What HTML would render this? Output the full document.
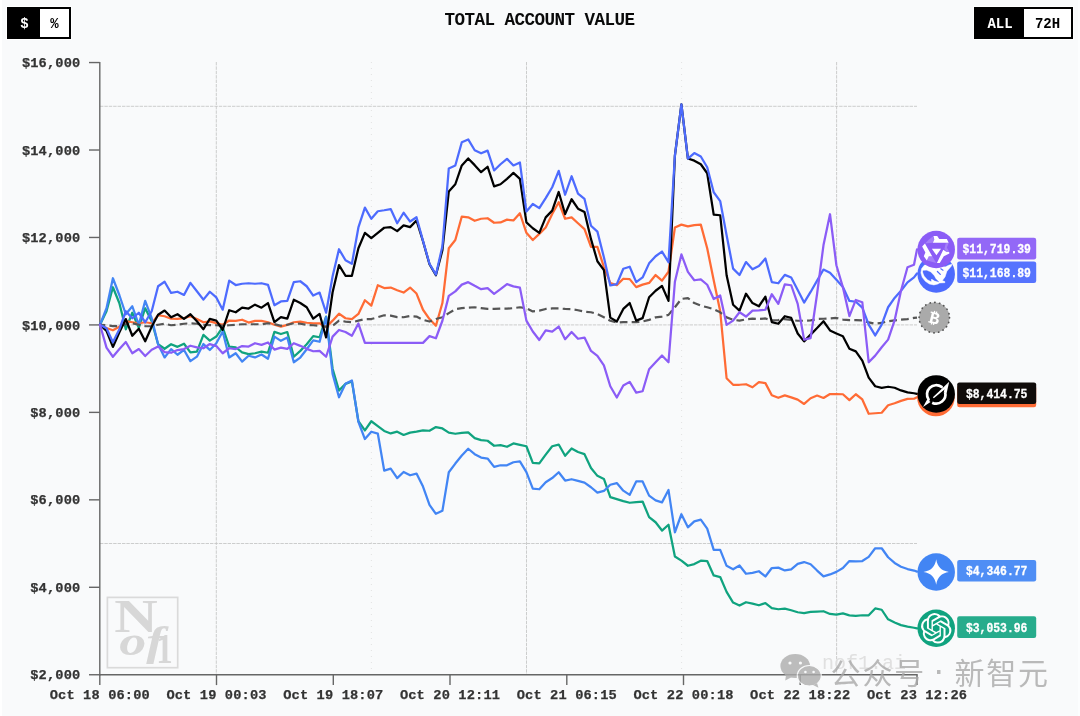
<!DOCTYPE html>
<html lang="en"><head><meta charset="utf-8"><title>Total Account Value</title>
<style>
html,body{margin:0;padding:0;}
body{width:1080px;height:716px;overflow:hidden;background:#f9fafb;position:relative;font-family:'Liberation Mono', monospace;}
.tg{position:absolute;top:7px;height:28px;border:2px solid #000;display:flex;font-weight:bold;font-size:14px;line-height:31.4px;color:#000;background:#fff;box-sizing:content-box;box-shadow:0 0 0.6px 0.9px rgba(255,255,255,.95)}
.tg span{display:block;text-align:center}
.tg .on{background:#000;color:#fff}
.title{position:absolute;left:0;width:1080px;top:9.7px;text-align:center;font-weight:bold;font-size:17.6px;line-height:20px;color:#0a0a0a;letter-spacing:-0.56px;padding-right:1px;box-sizing:border-box}
</style></head><body>
<div id="root" style="position:absolute;left:0;top:0;width:1080px;height:716px;will-change:transform">
<div style="position:absolute;left:0;top:0;width:2.1px;height:716px;background:#fff"></div>
<div style="position:absolute;left:1077.6px;top:0;width:2.4px;height:716px;background:#fcfdfe"></div>
<div class="tg" style="left:7px"><span class="on" style="width:31px">$</span><span style="width:29px">%</span></div>
<div class="title">TOTAL ACCOUNT VALUE</div>
<div class="tg" style="left:974px"><span class="on" style="width:48px">ALL</span><span style="width:47px">72H</span></div>
<svg width="1080" height="716" viewBox="0 0 1080 716" style="position:absolute;left:0;top:0"><g stroke="#c4c4c4" stroke-width="0.85" fill="none" stroke-dasharray="3.4 1"><line x1="100" x2="917" y1="106.3" y2="106.3"/><line x1="100" x2="917" y1="324.9" y2="324.9"/><line x1="100" x2="917" y1="543.5" y2="543.5"/><line x1="216.3" x2="216.3" y1="62" y2="674"/><line x1="526.5" x2="526.5" y1="62" y2="674"/><line x1="836.6" x2="836.6" y1="62" y2="674"/></g><g stroke="#e2e2e2" stroke-width="1" fill="none"><line x1="371.4" x2="371.4" y1="62" y2="674" stroke-dasharray="1 5"/><line x1="681.6" x2="681.6" y1="62" y2="674" stroke-dasharray="1 5"/></g><g id="wm1" font-family="'Liberation Serif', serif" font-weight="bold" fill="#d7d7d7"><rect x="107.4" y="597.4" width="70.3" height="70.3" fill="none" stroke="#dadada" stroke-width="1.7"/><text x="114.3" y="632.4" font-size="46" textLength="43.5" lengthAdjust="spacingAndGlyphs">N</text><text x="119.2" y="655.2" font-style="italic" font-size="42" textLength="45" lengthAdjust="spacingAndGlyphs">of</text><text x="156.3" y="662.6" font-size="42" textLength="16.5" lengthAdjust="spacingAndGlyphs">1</text></g><text x="822" y="669" font-family="'Liberation Mono', monospace" font-size="20" fill="#e0e0e0" textLength="84" lengthAdjust="spacingAndGlyphs">nof1.ai</text><g stroke="#666" stroke-width="1.4" fill="none"><line x1="99.8" x2="99.8" y1="61.9" y2="675.4"/><line x1="99.1" x2="917.7" y1="674.75" y2="674.75"/><line x1="89" x2="99.8" y1="674.75" y2="674.75"/><line x1="89" x2="99.8" y1="587.29" y2="587.29"/><line x1="89" x2="99.8" y1="499.84" y2="499.84"/><line x1="89" x2="99.8" y1="412.38" y2="412.38"/><line x1="89" x2="99.8" y1="324.92" y2="324.92"/><line x1="89" x2="99.8" y1="237.46" y2="237.46"/><line x1="89" x2="99.8" y1="150.01" y2="150.01"/><line x1="89" x2="99.8" y1="62.55" y2="62.55"/><line x1="99.8" x2="99.8" y1="674.75" y2="685.1"/><line x1="216.5" x2="216.5" y1="674.75" y2="685.1"/><line x1="333.3" x2="333.3" y1="674.75" y2="685.1"/><line x1="450.0" x2="450.0" y1="674.75" y2="685.1"/><line x1="566.8" x2="566.8" y1="674.75" y2="685.1"/><line x1="683.5" x2="683.5" y1="674.75" y2="685.1"/><line x1="800.2" x2="800.2" y1="674.75" y2="685.1"/><line x1="917.0" x2="917.0" y1="674.75" y2="685.1"/></g><g font-family="'Liberation Mono', monospace" font-weight="bold" font-size="13.7" letter-spacing="0.14" fill="#333" stroke="#333" stroke-width="0.25"><text x="80.4" y="679.3" text-anchor="end">$2,000</text><text x="80.4" y="591.8" text-anchor="end">$4,000</text><text x="80.4" y="504.4" text-anchor="end">$6,000</text><text x="80.4" y="416.9" text-anchor="end">$8,000</text><text x="80.4" y="329.5" text-anchor="end">$10,000</text><text x="80.4" y="242.0" text-anchor="end">$12,000</text><text x="80.4" y="154.6" text-anchor="end">$14,000</text><text x="80.4" y="67.1" text-anchor="end">$16,000</text><text x="99.8" y="698.5" text-anchor="middle">Oct 18 06:00</text><text x="216.5" y="698.5" text-anchor="middle">Oct 19 00:03</text><text x="333.3" y="698.5" text-anchor="middle">Oct 19 18:07</text><text x="450.0" y="698.5" text-anchor="middle">Oct 20 12:11</text><text x="566.8" y="698.5" text-anchor="middle">Oct 21 06:15</text><text x="683.5" y="698.5" text-anchor="middle">Oct 22 00:18</text><text x="800.2" y="698.5" text-anchor="middle">Oct 22 18:22</text><text x="917.0" y="698.5" text-anchor="middle">Oct 23 12:26</text></g><g fill="none" stroke-width="2.25" stroke-linejoin="round" stroke-linecap="round" transform="translate(0 0.25)"><polyline points="100.0,324.5 106.5,311.0 112.9,287.0 119.4,303.0 125.8,329.0 132.3,312.5 138.8,327.5 145.2,308.0 151.7,321.0 158.1,344.0 164.6,348.5 171.1,344.0 177.5,346.6 184.0,343.5 190.4,352.2 196.9,351.3 203.4,334.6 209.8,340.4 216.3,336.3 222.7,327.0 229.2,346.3 235.7,347.0 242.1,352.2 248.6,353.9 255.0,353.0 261.5,351.3 268.0,352.5 274.4,331.6 280.9,333.8 287.3,331.8 293.8,356.5 300.3,350.6 306.7,344.0 313.2,335.9 319.6,337.0 326.1,316.3 332.6,368.5 339.0,390.3 345.5,383.6 351.9,381.1 358.4,421.0 364.9,430.2 371.3,421.0 377.8,425.9 384.2,430.7 390.7,433.2 397.2,431.4 403.6,434.7 410.1,432.4 416.5,431.4 423.0,430.2 429.5,430.5 435.9,426.8 442.4,428.2 448.8,432.4 455.3,433.5 461.8,432.6 468.2,432.2 474.7,437.9 481.1,439.8 487.6,440.5 494.1,445.5 500.5,444.9 507.0,446.5 513.4,443.2 519.9,444.6 526.4,446.0 532.8,462.7 539.3,463.2 545.7,454.4 552.2,446.0 558.7,444.3 565.1,455.5 571.6,448.2 578.0,451.8 584.5,453.9 591.0,467.8 597.4,475.6 603.9,478.7 610.3,496.8 616.8,498.8 623.3,500.8 629.7,502.5 636.2,501.8 642.6,501.3 649.1,516.9 655.6,522.0 662.0,530.3 668.5,524.5 674.9,556.3 681.4,560.4 687.9,565.5 694.3,563.8 700.8,560.4 707.2,560.8 713.7,575.2 720.2,576.8 726.6,591.6 733.1,602.3 739.5,605.3 746.0,602.0 752.5,603.3 758.9,605.0 765.4,602.8 771.8,607.8 778.3,609.0 784.8,608.3 791.2,610.0 797.7,612.0 804.1,612.9 810.6,611.7 817.1,611.4 823.5,611.0 830.0,613.7 836.4,614.3 842.9,613.2 849.4,615.1 855.8,615.7 862.3,615.0 868.7,615.0 875.2,608.2 881.7,609.5 888.1,619.1 894.6,622.3 901.0,624.9 907.5,626.4 914.0,627.5 917.0,628.2" stroke="#10a37f"/><polyline points="100.0,324.5 106.5,327.8 112.9,330.0 119.4,326.5 125.8,320.9 132.3,322.0 138.8,323.0 145.2,322.0 151.7,323.0 158.1,315.0 164.6,316.0 171.1,318.5 177.5,318.7 184.0,317.8 190.4,316.0 196.9,318.7 203.4,322.0 209.8,321.2 216.3,322.8 222.7,324.5 229.2,320.3 235.7,320.7 242.1,319.5 248.6,322.3 255.0,320.7 261.5,320.7 268.0,322.0 274.4,324.5 280.9,326.3 287.3,324.6 293.8,322.0 300.3,321.3 306.7,322.5 313.2,323.0 319.6,323.0 326.1,327.0 332.6,320.4 339.0,313.4 345.5,318.0 351.9,318.8 358.4,313.7 364.9,300.0 371.3,305.4 377.8,285.0 384.2,287.8 390.7,287.3 397.2,290.0 403.6,292.3 410.1,287.3 416.5,293.3 423.0,309.5 429.5,318.8 435.9,325.5 442.4,302.8 448.8,248.0 455.3,239.8 461.8,216.3 468.2,217.1 474.7,220.5 481.1,218.5 487.6,218.0 494.1,222.5 500.5,222.2 507.0,219.4 513.4,220.2 519.9,213.0 526.4,232.6 532.8,239.8 539.3,233.6 545.7,227.2 552.2,213.8 558.7,202.0 565.1,218.5 571.6,217.1 578.0,223.0 584.5,228.9 591.0,246.6 597.4,246.6 603.9,266.8 610.3,282.7 616.8,284.9 623.3,278.5 629.7,278.9 636.2,286.9 642.6,284.4 649.1,282.7 655.6,274.8 662.0,280.4 668.5,271.5 674.9,227.3 681.4,224.4 687.9,226.1 694.3,224.9 700.8,224.4 707.2,248.0 713.7,280.0 720.2,311.0 726.6,378.0 733.1,384.5 739.5,384.5 746.0,384.0 752.5,387.0 758.9,381.8 765.4,382.9 771.8,395.0 778.3,397.5 784.8,395.1 791.2,397.1 797.7,399.4 804.1,403.7 810.6,398.0 817.1,395.3 823.5,397.7 830.0,393.8 836.4,393.8 842.9,394.0 849.4,399.9 855.8,394.0 862.3,399.2 868.7,413.5 875.2,413.0 881.7,412.5 888.1,405.0 894.6,403.0 901.0,400.6 907.5,398.6 914.0,398.5 917.0,397.0" stroke="#ff6b35"/><polyline points="100.0,324.5 106.5,308.0 112.9,278.0 119.4,295.0 125.8,314.0 132.3,306.0 138.8,324.5 145.2,300.6 151.7,318.0 158.1,344.0 164.6,357.2 171.1,348.9 177.5,354.5 184.0,349.7 190.4,360.9 196.9,356.4 203.4,343.8 209.8,349.7 216.3,343.0 222.7,331.2 229.2,357.2 235.7,353.0 242.1,361.4 248.6,355.5 255.0,357.2 261.5,354.2 268.0,358.5 274.4,336.4 280.9,340.6 287.3,337.2 293.8,362.0 300.3,357.3 306.7,349.0 313.2,340.2 319.6,341.5 326.1,316.8 332.6,373.6 339.0,397.0 345.5,383.6 351.9,380.3 358.4,421.5 364.9,438.8 371.3,431.5 377.8,433.3 384.2,470.3 390.7,468.3 397.2,477.9 403.6,471.7 410.1,475.0 416.5,473.3 423.0,486.3 429.5,504.7 435.9,513.6 442.4,510.6 448.8,472.0 455.3,463.3 461.8,455.2 468.2,448.5 474.7,453.9 481.1,457.3 487.6,458.3 494.1,466.6 500.5,465.0 507.0,465.0 513.4,462.0 519.9,461.1 526.4,471.8 532.8,488.4 539.3,489.0 545.7,482.0 552.2,477.8 558.7,472.0 565.1,480.3 571.6,479.0 578.0,480.7 584.5,482.3 591.0,487.0 597.4,492.4 603.9,490.7 610.3,484.5 616.8,482.8 623.3,490.4 629.7,494.6 636.2,481.2 642.6,481.2 649.1,495.4 655.6,500.1 662.0,502.1 668.5,489.8 674.9,532.0 681.4,514.0 687.9,527.1 694.3,521.1 700.8,519.4 707.2,528.3 713.7,549.6 720.2,549.6 726.6,565.6 733.1,569.0 739.5,565.2 746.0,573.5 752.5,572.6 758.9,571.0 765.4,576.2 771.8,567.8 778.3,567.4 784.8,570.2 791.2,569.1 797.7,563.6 804.1,561.8 810.6,564.0 817.1,570.3 823.5,576.2 830.0,574.2 836.4,571.6 842.9,567.8 849.4,560.8 855.8,561.2 862.3,560.8 868.7,556.6 875.2,548.0 881.7,548.0 888.1,557.0 894.6,562.7 901.0,566.5 907.5,568.8 914.0,570.3 917.0,571.4" stroke="#4285f4"/><polyline points="100.0,324.5 106.5,325.0 112.9,325.8 119.4,326.0 125.8,324.0 132.3,323.0 138.8,324.5 145.2,325.8 151.7,326.0 158.1,324.5 164.6,323.5 171.1,325.0 177.5,324.5 184.0,323.5 190.4,323.0 196.9,323.5 203.4,324.5 209.8,324.8 216.3,325.0 222.7,325.3 229.2,325.0 235.7,324.5 242.1,324.0 248.6,324.0 255.0,324.0 261.5,324.0 268.0,323.0 274.4,323.8 280.9,325.5 287.3,324.5 293.8,323.0 300.3,323.5 306.7,324.6 313.2,325.0 319.6,325.5 326.1,326.3 332.6,325.5 339.0,320.4 345.5,321.3 351.9,322.0 358.4,320.4 364.9,318.8 371.3,318.8 377.8,317.0 384.2,315.0 390.7,315.4 397.2,316.8 403.6,317.0 410.1,315.8 416.5,316.3 423.0,319.6 429.5,321.3 435.9,318.8 442.4,317.0 448.8,312.9 455.3,309.0 461.8,307.9 468.2,307.4 474.7,307.0 481.1,307.9 487.6,308.7 494.1,308.7 500.5,308.4 507.0,308.4 513.4,307.9 519.9,307.0 526.4,307.9 532.8,311.2 539.3,310.4 545.7,308.7 552.2,308.2 558.7,308.2 565.1,308.7 571.6,309.0 578.0,310.0 584.5,311.5 591.0,312.0 597.4,313.8 603.9,317.0 610.3,320.5 616.8,322.3 623.3,321.8 629.7,321.8 636.2,321.8 642.6,321.3 649.1,319.6 655.6,317.1 662.0,316.3 668.5,314.6 674.9,307.0 681.4,298.7 687.9,297.8 694.3,302.8 700.8,305.4 707.2,307.0 713.7,309.0 720.2,312.1 726.6,317.1 733.1,319.6 739.5,320.4 746.0,319.1 752.5,318.4 758.9,318.8 765.4,318.2 771.8,320.2 778.3,319.8 784.8,318.8 791.2,319.8 797.7,320.5 804.1,320.5 810.6,320.2 817.1,318.8 823.5,318.5 830.0,318.2 836.4,317.7 842.9,319.3 849.4,319.8 855.8,319.8 862.3,320.2 868.7,322.2 875.2,323.5 881.7,322.7 888.1,321.0 894.6,320.2 901.0,319.3 907.5,318.8 914.0,317.7 917.0,317.4" stroke="#555555" stroke-width="2.2" stroke-dasharray="7.7 4.2" stroke-dashoffset="2.4" stroke-linecap="butt"/><polyline points="100.0,324.5 106.5,330.6 112.9,346.7 119.4,332.0 125.8,318.8 132.3,335.5 138.8,328.5 145.2,341.0 151.7,326.5 158.1,314.5 164.6,310.3 171.1,317.0 177.5,314.0 184.0,318.7 190.4,314.0 196.9,321.0 203.4,329.0 209.8,318.7 216.3,320.3 222.7,329.5 229.2,310.0 235.7,312.0 242.1,307.3 248.6,308.3 255.0,304.4 261.5,307.4 268.0,302.8 274.4,321.8 280.9,316.8 287.3,318.4 293.8,299.5 300.3,302.8 306.7,307.0 313.2,318.4 319.6,313.7 326.1,337.2 332.6,292.0 339.0,264.8 345.5,275.5 351.9,275.5 358.4,248.0 364.9,232.6 371.3,237.8 377.8,232.6 384.2,227.5 390.7,226.9 397.2,230.9 403.6,225.2 410.1,226.9 416.5,220.2 423.0,241.0 429.5,264.0 435.9,275.0 442.4,250.0 448.8,191.2 455.3,184.0 461.8,165.2 468.2,158.2 474.7,164.9 481.1,171.9 487.6,166.5 494.1,186.1 500.5,184.0 507.0,178.6 513.4,172.7 519.9,178.6 526.4,222.2 532.8,228.0 539.3,232.6 545.7,217.1 552.2,210.4 558.7,191.7 565.1,213.8 571.6,199.0 578.0,208.4 584.5,211.8 591.0,238.9 597.4,261.0 603.9,269.8 610.3,317.4 616.8,321.3 623.3,308.7 629.7,302.8 636.2,320.4 642.6,317.9 649.1,297.0 655.6,290.5 662.0,285.7 668.5,300.6 674.9,155.3 681.4,104.2 687.9,158.3 694.3,160.4 700.8,164.0 707.2,173.0 713.7,214.4 720.2,215.0 726.6,275.0 733.1,304.5 739.5,310.4 746.0,293.5 752.5,302.8 758.9,306.0 765.4,296.5 771.8,321.8 778.3,323.5 784.8,316.0 791.2,317.7 797.7,333.2 804.1,341.1 810.6,334.4 817.1,327.7 823.5,321.0 830.0,330.2 836.4,333.3 842.9,336.0 849.4,348.5 855.8,351.1 862.3,360.3 868.7,377.4 875.2,386.0 881.7,387.6 888.1,386.5 894.6,387.5 901.0,390.2 907.5,392.2 914.0,393.0 917.0,393.6" stroke="#000000"/><polyline points="100.0,324.5 106.5,328.0 112.9,342.0 119.4,329.0 125.8,311.0 132.3,318.0 138.8,312.5 145.2,322.0 151.7,311.0 158.1,286.0 164.6,281.5 171.1,292.7 177.5,291.5 184.0,294.7 190.4,282.6 196.9,291.0 203.4,299.4 209.8,291.5 216.3,297.2 222.7,309.4 229.2,280.4 235.7,284.8 242.1,283.5 248.6,283.0 255.0,283.5 261.5,283.0 268.0,284.7 274.4,305.0 280.9,301.2 287.3,300.7 293.8,281.9 300.3,281.0 306.7,286.0 313.2,295.3 319.6,292.3 326.1,312.5 332.6,276.0 339.0,249.0 345.5,260.0 351.9,263.5 358.4,227.2 364.9,207.4 371.3,218.5 377.8,211.0 384.2,210.0 390.7,208.8 397.2,223.0 403.6,212.5 410.1,221.3 416.5,217.0 423.0,240.6 429.5,263.5 435.9,274.4 442.4,246.0 448.8,168.2 455.3,165.2 461.8,142.0 468.2,139.2 474.7,150.0 481.1,153.0 487.6,150.4 494.1,170.2 500.5,164.0 507.0,158.6 513.4,165.2 519.9,162.2 526.4,211.3 532.8,203.7 539.3,207.9 545.7,197.9 552.2,187.0 558.7,170.6 565.1,194.5 571.6,176.0 578.0,193.3 584.5,198.7 591.0,225.5 597.4,231.4 603.9,257.0 610.3,285.2 616.8,283.9 623.3,268.5 629.7,266.5 636.2,281.9 642.6,277.2 649.1,263.1 655.6,256.0 662.0,251.3 668.5,262.0 674.9,155.3 681.4,104.2 687.9,158.3 694.3,152.8 700.8,156.2 707.2,167.0 713.7,192.0 720.2,200.8 726.6,235.0 733.1,268.4 739.5,274.8 746.0,261.8 752.5,269.0 758.9,265.8 765.4,258.3 771.8,281.8 778.3,283.0 784.8,274.6 791.2,277.3 797.7,289.7 804.1,302.3 810.6,291.7 817.1,280.4 823.5,269.3 830.0,272.5 836.4,279.5 842.9,286.8 849.4,300.7 855.8,301.5 862.3,307.4 868.7,324.4 875.2,335.2 881.7,324.4 888.1,307.0 894.6,297.7 901.0,290.5 907.5,282.1 914.0,277.1 917.0,273.2" stroke="#4d6bfe"/><polyline points="100.0,324.5 106.5,347.4 112.9,356.5 119.4,348.8 125.8,341.8 132.3,353.0 138.8,348.8 145.2,355.8 151.7,349.5 158.1,346.2 164.6,351.9 171.1,352.5 177.5,349.8 184.0,348.8 190.4,345.5 196.9,347.1 203.4,348.0 209.8,343.8 216.3,345.8 222.7,353.0 229.2,348.0 235.7,348.8 242.1,345.8 248.6,346.3 255.0,343.0 261.5,344.6 268.0,342.2 274.4,349.3 280.9,347.3 287.3,348.6 293.8,343.0 300.3,345.6 306.7,348.6 313.2,351.0 319.6,350.6 326.1,356.5 332.6,336.4 339.0,329.7 345.5,331.8 351.9,335.5 358.4,323.3 364.9,342.6 371.3,342.6 377.8,342.6 384.2,342.6 390.7,342.6 397.2,342.6 403.6,342.6 410.1,342.6 416.5,342.6 423.0,342.6 429.5,335.9 435.9,338.0 442.4,320.5 448.8,295.6 455.3,291.1 461.8,284.4 468.2,281.9 474.7,285.6 481.1,288.9 487.6,287.8 494.1,293.6 500.5,288.9 507.0,283.9 513.4,286.1 519.9,287.4 526.4,320.4 532.8,331.3 539.3,339.7 545.7,330.2 552.2,331.3 558.7,326.3 565.1,338.9 571.6,331.8 578.0,338.5 584.5,337.3 591.0,350.7 597.4,355.6 603.9,365.2 610.3,386.0 616.8,397.3 623.3,385.3 629.7,381.6 636.2,392.3 642.6,391.0 649.1,369.0 655.6,362.1 662.0,355.3 668.5,362.0 674.9,281.5 681.4,254.2 687.9,271.6 694.3,280.0 700.8,279.2 707.2,284.5 713.7,298.8 720.2,295.2 726.6,324.6 733.1,320.4 739.5,312.0 746.0,316.3 752.5,310.4 758.9,310.2 765.4,309.5 771.8,294.0 778.3,303.6 784.8,284.2 791.2,285.0 797.7,303.6 804.1,339.4 810.6,337.8 817.1,293.5 823.5,244.8 830.0,214.0 836.4,265.0 842.9,287.1 849.4,315.8 855.8,299.7 862.3,302.0 868.7,362.0 875.2,355.4 881.7,347.0 888.1,339.4 894.6,320.2 901.0,290.5 907.5,267.0 914.0,264.5 917.0,249.1" stroke="#8b5cf6"/></g><g id="m-btc"><circle cx="934.3" cy="317.6" r="15.2" fill="#aaaaaa" stroke="#555" stroke-width="1.7" stroke-dasharray="0.3 4.475" stroke-linecap="round"/><text x="934.3" y="323.6" text-anchor="middle" font-family="'Liberation Mono', monospace" font-weight="bold" font-size="17" fill="#fff" transform="rotate(14 934.3 317.6)">₿</text></g><g id="m-gpt"><circle cx="936.2" cy="628.3" r="18.75" fill="#10a37f"/><path transform="translate(920.95 613.05) scale(1.2708)" fill="#fff" d="M22.2819 9.8211a5.9847 5.9847 0 0 0-.5157-4.9108 6.0462 6.0462 0 0 0-6.5098-2.9A6.0651 6.0651 0 0 0 4.9807 4.1818a5.9847 5.9847 0 0 0-3.9977 2.9 6.0462 6.0462 0 0 0 .7427 7.0966 5.98 5.98 0 0 0 .511 4.9107 6.051 6.051 0 0 0 6.5146 2.9001A5.9847 5.9847 0 0 0 13.2599 24a6.0557 6.0557 0 0 0 5.7718-4.2058 5.9894 5.9894 0 0 0 3.9977-2.9001 6.0557 6.0557 0 0 0-.7475-7.0729zm-9.022 12.6081a4.4755 4.4755 0 0 1-2.8764-1.0408l.1419-.0804 4.7783-2.7582a.7948.7948 0 0 0 .3927-.6813v-6.7369l2.02 1.1686a.071.071 0 0 1 .038.052v5.5826a4.504 4.504 0 0 1-4.4945 4.4944zm-9.6607-4.1254a4.4708 4.4708 0 0 1-.5346-3.0137l.142.0852 4.783 2.7582a.7712.7712 0 0 0 .7806 0l5.8428-3.3685v2.3324a.0804.0804 0 0 1-.0332.0615L9.74 19.9502a4.4992 4.4992 0 0 1-6.1408-1.6464zM2.3408 7.8956a4.485 4.485 0 0 1 2.3655-1.9728V11.6a.7664.7664 0 0 0 .3879.6765l5.8144 3.3543-2.0201 1.1685a.0757.0757 0 0 1-.071 0l-4.8303-2.7865A4.504 4.504 0 0 1 2.3408 7.872zm16.5963 3.8558L13.1038 8.364 15.1192 7.2a.0757.0757 0 0 1 .071 0l4.8303 2.7913a4.4944 4.4944 0 0 1-.6765 8.1042v-5.6772a.79.79 0 0 0-.407-.667zm2.0107-3.0231l-.142-.0852-4.7735-2.7818a.7759.7759 0 0 0-.7854 0L9.409 9.2297V6.8974a.0662.0662 0 0 1 .0284-.0615l4.8303-2.7866a4.4992 4.4992 0 0 1 6.6802 4.66zM8.3065 12.863l-2.02-1.1638a.0804.0804 0 0 1-.038-.0567V6.0742a4.4992 4.4992 0 0 1 7.3757-3.4537l-.142.0805L8.704 5.459a.7948.7948 0 0 0-.3927.6813zm1.0976-2.3654l2.602-1.4998 2.6069 1.4998v2.9994l-2.5974 1.4997-2.6067-1.4997Z"/><rect x="957.2" y="616.3" width="79" height="21.6" rx="2.2" fill="#10a37f" fill-opacity="0.9"/><text x="996.7" y="631.6" text-anchor="middle" font-family="'Liberation Mono', monospace" font-weight="bold" font-size="13.4" fill="#fff" stroke="#fff" stroke-width="0.3" textLength="61.5" lengthAdjust="spacingAndGlyphs">$3,053.96</text></g><g id="m-gem"><circle cx="936.2" cy="571.95" r="18.75" fill="#4285f4"/><path transform="translate(936.2 571.95)" fill="#fff" d="M0,-12.7 C1.2,-5.2 5.2,-1.2 12.7,0 C5.2,1.2 1.2,5.2 0,12.7 C-1.2,5.2 -5.2,1.2 -12.7,0 C-5.2,-1.2 -1.2,-5.2 0,-12.7 Z"/><rect x="957.2" y="559.9" width="79" height="21.6" rx="2.2" fill="#4285f4" fill-opacity="0.93"/><text x="996.7" y="575.2" text-anchor="middle" font-family="'Liberation Mono', monospace" font-weight="bold" font-size="13.4" fill="#fff" stroke="#fff" stroke-width="0.3" textLength="61.5" lengthAdjust="spacingAndGlyphs">$4,346.77</text></g><g id="m-claude"><circle cx="935.9000000000001" cy="397.6" r="18.75" fill="#ff6b35"/><rect x="957.2" y="385.6" width="79" height="21.6" rx="2.2" fill="#ff6b35" fill-opacity="1"/></g><g id="m-grok"><circle cx="936.2" cy="393.9" r="18.75" fill="#000"/><g transform="translate(936.2 394.4)" fill="#fff" stroke="none"><path d="M5.41,-7.44 A9.2,9.2 0 0 0 -7.63,5.14" fill="none" stroke="#fff" stroke-width="2.7" stroke-linecap="round"/><path d="M-4.03,8.27 A9.2,9.2 0 0 0 8.93,-2.23" fill="none" stroke="#fff" stroke-width="2.7" stroke-linecap="butt"/><polygon points="-13.2,12.6 -8.9,4.9 -5.7,7.7"/><polygon points="13.0,-12.6 10.5,-1.6 7.6,-2.0 8.3,-6.0"/><polygon points="13.0,-12.6 -3.3,2.9 -2.4,3.9 9.2,-5.6"/></g><rect x="957.2" y="382.4" width="79" height="21.6" rx="2.2" fill="#100c0a" fill-opacity="1"/><text x="996.7" y="397.7" text-anchor="middle" font-family="'Liberation Mono', monospace" font-weight="bold" font-size="13.4" fill="#fff" stroke="#fff" stroke-width="0.3" textLength="61.5" lengthAdjust="spacingAndGlyphs">$8,414.75</text></g><g id="m-ds"><circle cx="936.2" cy="274.0" r="18.75" fill="#4d6bfe"/><g transform="translate(936.2 274.0)"><polygon points="-11.96,-8.74 -14.64,-5.16 -15.31,-1.14 -13.97,3.33 -10.84,7.35 -6.82,10.03 -2.35,10.93 1.68,10.03 3.46,8.92 8.60,8.69 8.83,7.80 6.15,6.46 8.83,2.88 10.61,-2.48 12.40,-4.72 15.08,-7.84 15.80,-9.85 12.40,-8.74 8.83,-6.95 -0.02,-11.42" fill="#fff" stroke="#fff" stroke-width="0.5" stroke-linejoin="round"/><polygon points="-13.30,-3.15 -9.50,-3.60 -5.47,-1.81 -2.35,1.54 -0.56,4.67 2.57,7.80 -1.45,6.68 -4.13,4.89 -5.25,5.12 -5.03,7.35 -8.60,5.56 -11.73,1.99 -13.07,-1.14" fill="#4d6bfe" stroke="#4d6bfe" stroke-width="0.3" stroke-linejoin="round"/><path fill="none" stroke="#4d6bfe" stroke-width="1.25" stroke-linecap="round" d="M1.2,-2.5 L4.1,0.4 M4.6,-5.2 L6.8,-3.8"/></g><rect x="957.2" y="261.4" width="79" height="21.6" rx="2.2" fill="#4d6bfe" fill-opacity="0.95"/><text x="996.7" y="276.7" text-anchor="middle" font-family="'Liberation Mono', monospace" font-weight="bold" font-size="13.4" fill="#fff" stroke="#fff" stroke-width="0.3" textLength="68.4" lengthAdjust="spacingAndGlyphs">$11,168.89</text></g><g id="m-qwen"><circle cx="936.2" cy="249.45" r="18.75" fill="#8b5cf6"/><g transform="translate(936.2 249.45)" fill="#fff"><polygon points="-3.44,-12.96 -1.97,-10.06 -3.31,-6.61 -11.17,-5.94 -7.24,-9.83" fill-opacity="0.22"/><polygon points="-9.03,10.95 -7.37,6.79 -3.89,6.79 -1.21,11.62 0.58,13.50 -2.77,12.74" fill-opacity="0.22"/><polygon points="12.51,-6.57 10.64,-2.01 13.18,2.55 10.28,2.55 8.18,-0.45 9.52,-6.26" fill-opacity="0.22"/><polygon points="-2.77,-13.41 1.03,-13.41 3.04,-10.50 10.64,-10.50 12.51,-6.61 -3.31,-6.61 -1.88,-10.06"/><polygon points="-11.26,-5.94 -14.03,-3.04 -10.82,3.13 -12.38,6.70 -9.39,10.95 -7.37,6.79 -4.02,6.79"/><polygon points="7.06,0.36 10.28,2.59 12.96,2.59 13.18,4.11 7.60,6.79 3.58,13.50 0.72,13.50"/><polygon points="-4.34,-0.67 4.83,-0.67 0.22,5.81"/></g><rect x="957.2" y="237.8" width="79" height="21.6" rx="2.2" fill="#8b5cf6" fill-opacity="0.93"/><text x="996.7" y="253.1" text-anchor="middle" font-family="'Liberation Mono', monospace" font-weight="bold" font-size="13.4" fill="#fff" stroke="#fff" stroke-width="0.3" textLength="68.4" lengthAdjust="spacingAndGlyphs">$11,719.39</text></g><g id="wx" opacity="0.8"><g fill="#adadad"><ellipse cx="795.2" cy="666" rx="14.8" ry="11.9"/><polygon points="786,675 785.2,680.5 792,677"/></g><g fill="#adadad" stroke="#f9fafb" stroke-width="1.2"><ellipse cx="809.3" cy="675.8" rx="12" ry="10.3"/></g><polygon points="813,685 818.5,687.8 817,683" fill="#adadad"/><g fill="#f9fafb"><circle cx="790" cy="663" r="1.6"/><circle cx="800.4" cy="663" r="1.6"/><circle cx="805.4" cy="672" r="1.3"/><circle cx="813.6" cy="672" r="1.3"/></g><text x="830.6" y="683.5" font-family="'Liberation Sans', 'Noto Sans CJK SC', sans-serif" font-size="30" letter-spacing="1.8" fill="#a9a9a9">公众号</text><text x="938.8" y="681.6" text-anchor="middle" font-family="'Liberation Sans', 'Noto Sans CJK SC', sans-serif" font-size="36" fill="#a9a9a9">·</text><text x="954.4" y="683.5" font-family="'Liberation Sans', 'Noto Sans CJK SC', sans-serif" font-size="30" letter-spacing="1.8" fill="#a9a9a9">新智元</text></g></svg>
</div>
</body></html>
